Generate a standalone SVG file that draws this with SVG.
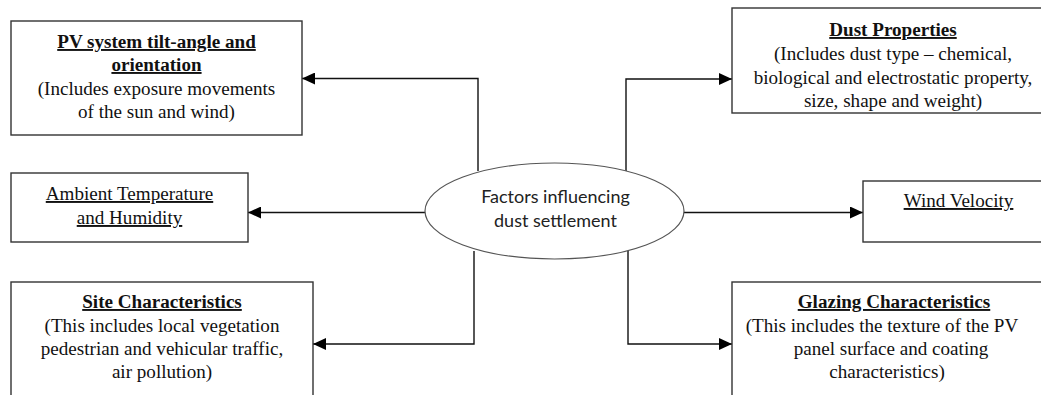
<svg xmlns="http://www.w3.org/2000/svg" width="1041" height="395" viewBox="0 0 1041 395">
<style>
.box{fill:#fff;stroke:#333;stroke-width:1.4}
.t{font-family:"Liberation Serif","Times New Roman",serif;font-size:19.1px;fill:#111;text-anchor:middle}
.b{font-weight:bold}
.u{text-decoration:underline}
.c{font-family:Lato,"Open Sans",sans-serif;font-size:18px;fill:#222;text-anchor:middle}
.ln{fill:none;stroke:#111;stroke-width:1.4}
</style>
<defs>
<marker id="ah" markerUnits="userSpaceOnUse" markerWidth="13" markerHeight="12" refX="13" refY="6" orient="auto">
<path d="M0,0 L13,6 L0,12 z" fill="#000"/>
</marker>
</defs>
<rect width="1041" height="395" fill="#fff"/>
<g id="connectors">
<path class="ln" d="M478,171 V78.5 H302" marker-end="url(#ah)"/>
<path class="ln" d="M626,171 V79 H732" marker-end="url(#ah)"/>
<path class="ln" d="M425,212.5 H248" marker-end="url(#ah)"/>
<path class="ln" d="M684,212.5 H863" marker-end="url(#ah)"/>
<path class="ln" d="M474,251 V344 H313" marker-end="url(#ah)"/>
<path class="ln" d="M628,251 V344 H732" marker-end="url(#ah)"/>
</g>
<g id="center">
<ellipse cx="554.5" cy="211" rx="129.5" ry="48" fill="#fff" stroke="#555" stroke-width="1.2"/>
<text class="c" x="555.5" y="203">Factors influencing</text>
<text class="c" x="555.5" y="227">dust settlement</text>
</g>
<g id="pv">
<rect class="box" x="11" y="21" width="291" height="114"/>
<text class="t b u" x="156.5" y="48">PV system tilt-angle and</text>
<text class="t b u" x="156.5" y="71">orientation</text>
<text class="t" x="156.5" y="95">(Includes exposure movements</text>
<text class="t" x="156.5" y="118">of the sun and wind)</text>
</g>
<g id="dust">
<rect class="box" x="732" y="8" width="330" height="105"/>
<text class="t b u" x="893" y="36">Dust Properties</text>
<text class="t" x="893" y="60">(Includes dust type – chemical,</text>
<text class="t" x="893" y="83.5">biological and electrostatic property,</text>
<text class="t" x="893" y="107">size, shape and weight)</text>
</g>
<g id="ambient">
<rect class="box" x="11" y="173" width="237" height="69"/>
<text class="t u" x="129.5" y="200">Ambient Temperature</text>
<text class="t u" x="129.5" y="224">and Humidity</text>
</g>
<g id="wind">
<rect class="box" x="863" y="181" width="200" height="61"/>
<text class="t u" x="958.5" y="207">Wind Velocity</text>
</g>
<g id="site">
<rect class="box" x="11" y="282" width="302" height="130"/>
<text class="t b u" x="162" y="308">Site Characteristics</text>
<text class="t" x="162" y="331.5">(This includes local vegetation</text>
<text class="t" x="162" y="355">pedestrian and vehicular traffic,</text>
<text class="t" x="162" y="378">air pollution)</text>
</g>
<g id="glazing">
<rect class="box" x="732" y="282" width="330" height="130"/>
<text class="t b u" x="894" y="308">Glazing Characteristics</text>
<text class="t" x="882" y="331.5">(This includes the texture of the PV</text>
<text class="t" x="891" y="355">panel surface and coating</text>
<text class="t" x="887" y="378">characteristics)</text>
</g>
</svg>
